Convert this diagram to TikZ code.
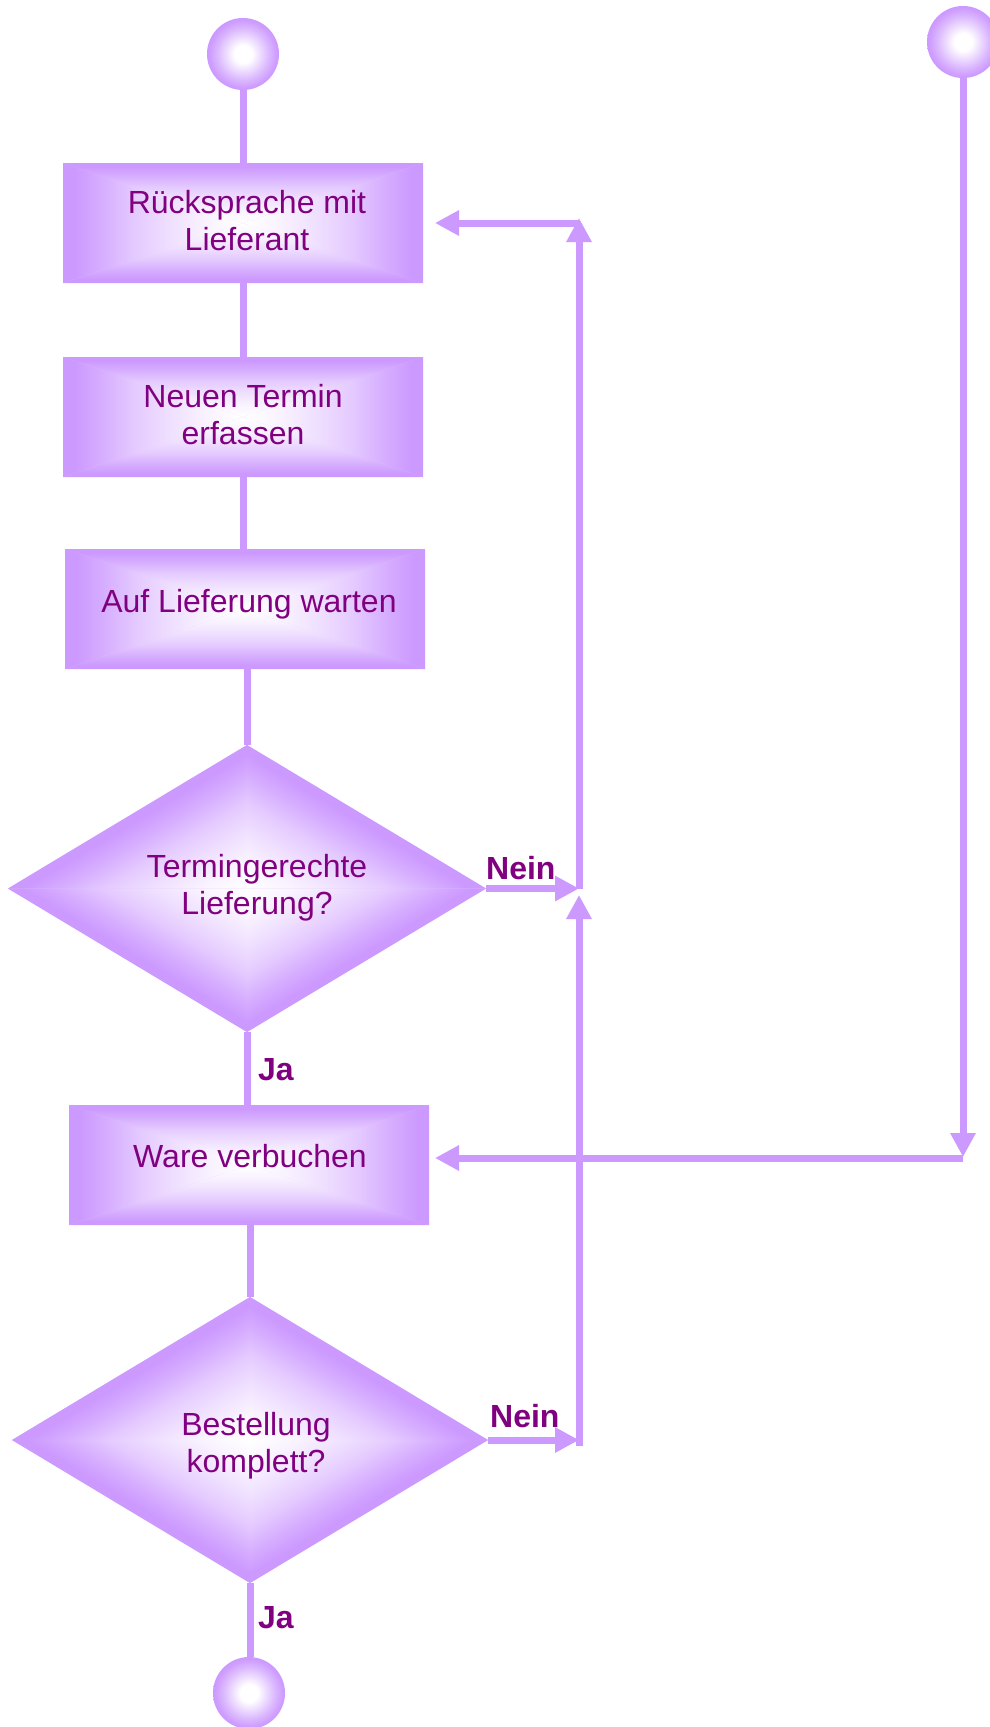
\documentclass[tikz,border=0pt]{standalone}
\usepackage{fontspec}
\setmainfont{Liberation Sans}
\usetikzlibrary{arrows.meta,shapes.geometric}
\definecolor{lav}{HTML}{CC99FF}
\definecolor{txt}{HTML}{800080}
\pgfdeclareverticalshading{rgv}{100bp}{color(0bp)=(white); color(25bp)=(white); color(35bp)=(lav!12); color(45bp)=(lav!30); color(55bp)=(lav!52); color(65bp)=(lav!82); color(72bp)=(lav); color(100bp)=(lav)}
\pgfdeclareradialshading{ball}{\pgfpoint{0bp}{0bp}}{color(0bp)=(white); color(6bp)=(white); color(12bp)=(lav!35); color(18bp)=(lav!70); color(23bp)=(lav!95); color(25bp)=(lav); color(50bp)=(lav)}
\newcommand\rectgrad{%
  \fill[lav!55] (-100,-100) rectangle (100,100);
  \shade[shading=rgv] (-100,100) -- (100,100) -- (0,0) -- cycle;
  \shade[shading=rgv,shading angle=180] (-100,-100) -- (100,-100) -- (0,0) -- cycle;
  \shade[shading=rgv,shading angle=90] (-100,-100) -- (-100,100) -- (0,0) -- cycle;
  \shade[shading=rgv,shading angle=-90] (100,-100) -- (100,100) -- (0,0) -- cycle;
}
\newcommand\boxbg[4]{\begin{scope}[transform canvas={shift={(#1pt,-#2pt)},xscale=#3/100,yscale=#4/100},x=1pt,y=1pt]\rectgrad\end{scope}}
\newcommand\diabg[4]{\begin{scope}[transform canvas={shift={(#1pt,-#2pt)},xscale=#3/141.4214,yscale=#4/141.4214,rotate=45},x=1pt,y=1pt]\rectgrad\end{scope}}
\begin{document}
\begin{tikzpicture}[x=1pt,y=-1pt,
  conn/.style={draw=lav,line width=7pt},
  arr/.style={conn,-{Triangle[length=24pt,width=24pt]}},
  proc/.style={rectangle,minimum width=360pt,minimum height=120pt,inner sep=0pt,outer sep=0pt},
  dec/.style={diamond,minimum width=478pt,minimum height=287pt,inner sep=0pt,outer sep=0pt},
  term/.style={circle,minimum size=72pt,inner sep=0pt,outer sep=0pt},
  lbl/.style={text=txt,font=\fontsize{32}{37}\selectfont,align=center,inner sep=0pt},
  yn/.style={text=txt,font=\fontsize{32}{37}\selectfont\bfseries,inner sep=0pt,anchor=base west}]
\useasboundingbox (0,0) rectangle (990,1727);
\fill[white] (0,0) rectangle (990,1727);

% shaded backgrounds
\boxbg{243}{223}{180}{60}
\boxbg{243}{417}{180}{60}
\boxbg{245}{609}{180}{60}
\boxbg{249}{1165}{180}{60}
\diabg{247}{888.5}{239}{143.5}
\diabg{250}{1440}{238}{143}
\shade[shading=ball] (243,54) circle[radius=36pt];
\shade[shading=ball] (963,42) circle[radius=36pt];
\shade[shading=ball] (249,1693) circle[radius=36pt];

% shape nodes
\node[term] (s1) at (243,54) {};
\node[term] (s2) at (963,42) {};
\node[term] (e) at (249,1693) {};
\node[proc] (b1) at (243,223) {};
\node[proc] (b2) at (243,417) {};
\node[proc] (b3) at (245,609) {};
\node[proc] (b4) at (249,1165) {};
\node[dec] (d1) at (247,888.5) {};
\node[dec,minimum width=476pt,minimum height=286pt] (d2) at (250,1440) {};

% texts
\node[lbl] (t1) at (247,220.5) {Rücksprache mit\\Lieferant};
\node[lbl] (t2) at (243,415) {Neuen Termin\\erfassen};
\node[lbl] (t3) at (249,604) {Auf Lieferung warten};
\node[lbl] (t4) at (250,1156) {Ware verbuchen};
\node[lbl] (t5) at (257,888) {Termingerechte\\Lieferung?};
\node[lbl] (t6) at (256,1446) {Bestellung\\komplett?};

% main flow
\draw[conn] (s1.south) -- (b1.north);
\draw[conn] (b1.south) -- (b2.north);
\draw[conn] (b2.south) -- (b2.south |- b3.north);
\draw[conn] (d1.north |- b3.south) -- (d1.north);
\draw[conn] (d1.south) -- (d1.south |- b4.north);
\draw[conn] (d2.north |- b4.south) -- (d2.north);
\draw[conn] (d2.south) -- (d2.south |- e.north);

% loops
\coordinate (j1) at (579,888.5);
\coordinate (k1) at (579,218);
\coordinate (j2) at (579,223);
\coordinate (a1) at ([xshift=12pt]b1.east);
\coordinate (j3) at (579,1440);
\coordinate (j3b) at (579,1446);
\coordinate (k3) at (579,895);
\coordinate (k2) at (963,1157);
\coordinate (j4) at (963,1158);
\coordinate (a4) at (435,1158);
\draw[arr] (d1.east) -- (j1);
\draw[arr] (j1) -- (k1);
\draw[arr] (j2) -- (a1);
\draw[arr] (d2.east) -- (j3);
\draw[arr] (j3b) -- (k3);
\draw[arr] (s2.south) -- (k2);
\draw[arr] (j4) -- (a4);

% labels
\node[yn] (n1) at (486,879) {Nein};
\node[yn] (n2) at (490,1427) {Nein};
\node[yn] (y1) at (258,1080) {Ja};
\node[yn] (y2) at (258,1628) {Ja};
\end{tikzpicture}
\end{document}
